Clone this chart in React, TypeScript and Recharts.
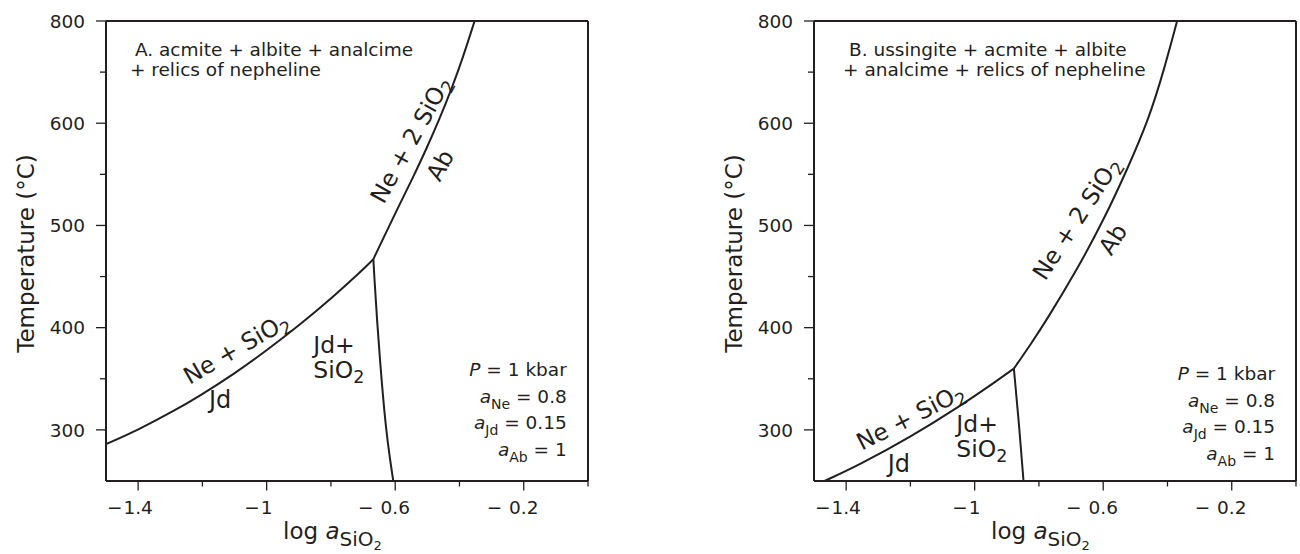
import React from 'react';
import { LineChart, Line, XAxis, YAxis, ReferenceLine, ReferenceDot } from 'recharts';

const FONT = '"DejaVu Sans", "Liberation Sans", Arial, sans-serif';
const INK = '#231f20';

// the temperature axis is squeezed above 600 °C (800 sits where 700 would be)
const toAxis = (t: number) => (t <= 600 ? t : 600 + (t - 600) / 2);
const fromAxis = (v: number) => (v <= 600 ? v : 600 + (v - 600) * 2);

// ticks
const xTicks = [-1.4, -1.2, -1, -0.8, -0.6, -0.4, -0.2, 0];
const xMajor = [-1.4, -1, -0.6, -0.2];
const xMajorLabels = ['−1.4', '−1', '− 0.6', '− 0.2'];
const yMajor = [300, 400, 500, 600, 800];
const yMinor = [350, 450, 550, 700];

// panel A curves: x = log aSiO2, t = temperature (°C)
const a1X = [-1.5, -1.394, -1.2915, -1.2074, -1.1047, -0.999, -0.896, -0.7935, -0.7095, -0.668];
const a1T = [286, 301, 318, 333.5, 354, 378, 403, 430, 454, 467];
const a2X = [-0.668, -0.665, -0.6575, -0.642, -0.6264, -0.606];
const a2T = [467, 450, 411, 346, 293, 250];
const a3X = [-0.668, -0.63, -0.592, -0.546, -0.502, -0.461, -0.424, -0.39, -0.353];
const a3T = [467, 492, 517, 546, 575.5, 610, 668, 727, 800];

// panel B curves
const b1X = [-1.467, -1.358, -1.2025, -1.047, -0.938, -0.878];
const b1T = [250, 266, 292.5, 323, 346.5, 360];
const b2X = [-0.878, -0.862, -0.848];
const b2T = [360, 306, 250];
const b3X = [-0.878, -0.825, -0.774, -0.681, -0.5975, -0.525, -0.458, -0.41, -0.37];
const b3T = [360, 384, 408.5, 457, 506, 555, 608, 706, 800];

// text
const titleA = ['A. acmite + albite + analcime', '+ relics of nepheline'];
const titleB = ['B. ussingite + acmite + albite', '+ analcime + relics of nepheline'];
const paramSubs = ['Ne', 'Jd', 'Ab'];
const paramVals = ['0.8', '0.15', '1'];

const rows = (xs: number[], ts: number[]) => xs.map((x, i) => ({ x, y: toAxis(ts[i]) }));

const numWidth = (s: string, fs: number) =>
  s.split('').reduce((w, c) => w + (c === '.' || c === ' ' ? 0.318 : 0.636), 0) * fs;

const XTick = (props: any) => {
  const { x, y, payload } = props;
  const v = payload.value;
  const idx = xMajor.findIndex((m) => Math.abs(m - v) < 1e-6);
  const major = idx >= 0;
  let pre = '';
  let num = '';
  if (major) {
    const lab = xMajorLabels[idx];
    const k = lab.search(/\d/);
    pre = lab.slice(0, k);
    num = lab.slice(k);
  }
  const fs = 18.5;
  return (
    <g>
      <line x1={x} x2={x} y1={y} y2={y + (major ? 9.5 : 5.5)} stroke={INK} strokeWidth={1.3} />
      {major && (
        <>
          <text x={x} y={y + 32.5} textAnchor="middle" fontFamily={FONT} fontSize={fs} fill={INK}>{num}</text>
          <text x={x - numWidth(num, fs) / 2 - 1} y={y + 32.5} textAnchor="end" fontFamily={FONT} fontSize={fs} fill={INK} style={{ whiteSpace: 'pre' }}>{pre}</text>
        </>
      )}
    </g>
  );
};

const YTick = (props: any) => {
  const { x, y, payload } = props;
  const t = fromAxis(payload.value);
  const major = yMajor.includes(t);
  return (
    <g>
      <line x1={x - (major ? 10 : 6)} x2={x} y1={y} y2={y} stroke={INK} strokeWidth={1.3} />
      {major && (
        <text x={x - 21} y={y + 6.7} textAnchor="end" fontFamily={FONT} fontSize={18.5} fill={INK}>{t}</text>
      )}
    </g>
  );
};

const XTitle = (props: any) => {
  const vb = props.viewBox;
  return (
    <text x={vb.x + 177} y={vb.y + 57.5} fontFamily={FONT} fontSize={23} fill={INK}>
      {'log '}
      <tspan fontStyle="italic">a</tspan>
      <tspan fontSize={20} dy={7.5}>SiO</tspan>
      <tspan fontSize={13} dy={4}>2</tspan>
    </text>
  );
};

const YTitle = (props: any) => {
  const vb = props.viewBox;
  const cx = vb.x + props.x0;
  const cy = vb.y + vb.height / 2 + 2.5;
  return (
    <text transform={`translate(${cx}, ${cy}) rotate(-90)`} x={0} y={0} textAnchor="middle" fontFamily={FONT} fontSize={23} fill={INK}>
      Temperature (°C)
    </text>
  );
};

// rotated label centred on (cx, cy); text with optional subscript 2
const RotLabel = ({ cx, cy, angle, text, sub }: any) => {
  const fs = 23.5;
  return (
    <g transform={`translate(${cx}, ${cy}) rotate(${angle})`}>
      <text x={0} y={fs * 0.36} textAnchor="middle" fontFamily={FONT} fontSize={fs} fill={INK}>
        {text}
        {sub && <tspan fontSize={17.5} dy={5}>{sub}</tspan>}
      </text>
    </g>
  );
};

const JdLabel = ({ cx, cy }: any) => (
  <text x={cx} y={cy + 8.7} textAnchor="middle" fontFamily={FONT} fontSize={24} fill={INK}>Jd</text>
);

const JdSiLabel = ({ cx, cy }: any) => (
  <g>
    <text x={cx} y={cy} fontFamily={FONT} fontSize={23.5} fill={INK}>Jd+</text>
    <text x={cx} y={cy + 25} fontFamily={FONT} fontSize={23.5} fill={INK}>
      SiO<tspan fontSize={17.5} dy={5}>2</tspan>
    </text>
  </g>
);

const TitleBlock = ({ cx, cy, lines, indent }: any) => (
  <g>
    <text x={cx} y={cy} fontFamily={FONT} fontSize={18.5} fill={INK}>{lines[0]}</text>
    <text x={cx - indent} y={cy + 20} fontFamily={FONT} fontSize={18.5} fill={INK}>{lines[1]}</text>
  </g>
);

const ParamBlock = ({ cx, cy }: any) => (
  <g fontFamily={FONT} fontSize={18.5} fill={INK}>
    <text x={cx} y={cy} textAnchor="end">
      <tspan fontStyle="italic">P</tspan>
      {' = 1 kbar'}
    </text>
    {paramSubs.map((s, i) => (
      <text key={s} x={cx} y={cy + 26.8 * (i + 1)} textAnchor="end">
        <tspan fontStyle="italic">a</tspan>
        <tspan fontSize={14} dy={6}>{s}</tspan>
        <tspan dy={-6}>{' = ' + paramVals[i]}</tspan>
      </text>
    ))}
  </g>
);

type Spot = { x: number; t: number; angle?: number };

type PanelProps = {
  curves: { x: number[]; t: number[] }[];
  yAxisWidth: number;
  marginRight: number;
  yTitleX: number;
  title: string[];
  titleAt: Spot;
  titleIndent: number;
  neSi: Spot;
  jd: Spot;
  jdSi: Spot;
  ne2Si: Spot;
  ab: Spot;
  params: Spot;
};

const yTicksAxis = [...yMajor, ...yMinor].map(toAxis).sort((a, b) => a - b);

function Panel(p: PanelProps) {
  const dot = (s: Spot, key: string, render: (cx: number, cy: number) => React.ReactElement) => (
    <ReferenceDot
      key={key}
      x={s.x}
      y={toAxis(s.t)}
      r={0}
      ifOverflow="visible"
      shape={(sp: any) => render(sp.cx, sp.cy)}
    />
  );
  return (
    <LineChart width={650} height={554} margin={{ top: 21, right: p.marginRight, bottom: 0, left: 0 }}>
      <XAxis
        type="number"
        dataKey="x"
        domain={[-1.5, 0]}
        ticks={xTicks}
        interval={0}
        tickSize={0}
        tickMargin={0}
        tickLine={false}
        tick={<XTick />}
        axisLine={{ stroke: INK, strokeWidth: 2 }}
        height={73}
        allowDataOverflow
        label={<XTitle />}
      />
      <YAxis
        type="number"
        domain={[250, 700]}
        ticks={yTicksAxis}
        interval={0}
        tickSize={0}
        tickMargin={0}
        tickLine={false}
        tick={<YTick />}
        axisLine={{ stroke: INK, strokeWidth: 2 }}
        width={p.yAxisWidth}
        allowDataOverflow
        label={<YTitle x0={p.yTitleX} />}
      />
      <ReferenceLine y={700} stroke={INK} strokeWidth={2} />
      <ReferenceLine x={0} stroke={INK} strokeWidth={2} />
      {p.curves.map((c, i) => (
        <Line
          key={i}
          data={rows(c.x, c.t)}
          dataKey="y"
          type="basis"
          dot={false}
          activeDot={false}
          stroke={INK}
          strokeWidth={2}
          isAnimationActive={false}
        />
      ))}
      {dot(p.titleAt, 'title', (cx, cy) => <TitleBlock cx={cx} cy={cy} lines={p.title} indent={p.titleIndent} />)}
      {dot(p.neSi, 'nesi', (cx, cy) => <RotLabel cx={cx} cy={cy} angle={p.neSi.angle} text="Ne + SiO" sub="2" />)}
      {dot(p.jd, 'jd', (cx, cy) => <JdLabel cx={cx} cy={cy} />)}
      {dot(p.jdSi, 'jdsi', (cx, cy) => <JdSiLabel cx={cx} cy={cy} />)}
      {dot(p.ne2Si, 'ne2si', (cx, cy) => <RotLabel cx={cx} cy={cy} angle={p.ne2Si.angle} text="Ne + 2 SiO" sub="2" />)}
      {dot(p.ab, 'ab', (cx, cy) => <RotLabel cx={cx} cy={cy} angle={p.ab.angle} text="Ab" />)}
      {dot(p.params, 'params', (cx, cy) => <ParamBlock cx={cx} cy={cy} />)}
    </LineChart>
  );
}

export default function App() {
  return (
    <div style={{ position: 'absolute', left: 0, top: 0, width: 1300, height: 554, background: '#fff', fontFamily: FONT }}>
      <div style={{ position: 'absolute', left: 0, top: 0 }}>
        <Panel
          curves={[{ x: a1X, t: a1T }, { x: a2X, t: a2T }, { x: a3X, t: a3T }]}
          yAxisWidth={106}
          marginRight={62}
          yTitleX={33.5}
          title={titleA}
          titleAt={{ x: -1.41, t: 732 }}
          titleIndent={5}
          neSi={{ x: -1.095, t: 380, angle: -30 }}
          jd={{ x: -1.145, t: 330 }}
          jdSi={{ x: -0.855, t: 375 }}
          ne2Si={{ x: -0.553, t: 584, angle: -61 }}
          ab={{ x: -0.461, t: 559, angle: -61 }}
          params={{ x: -0.066, t: 353 }}
        />
      </div>
      <div style={{ position: 'absolute', left: 650, top: 0 }}>
        <Panel
          curves={[{ x: b1X, t: b1T }, { x: b2X, t: b2T }, { x: b3X, t: b3T }]}
          yAxisWidth={164}
          marginRight={4}
          yTitleX={91.7}
          title={titleB}
          titleAt={{ x: -1.391, t: 732 }}
          titleIndent={6}
          neSi={{ x: -1.2, t: 313, angle: -27 }}
          jd={{ x: -1.236, t: 267 }}
          jdSi={{ x: -1.057, t: 298 }}
          ne2Si={{ x: -0.684, t: 507, angle: -57 }}
          ab={{ x: -0.571, t: 486.5, angle: -57 }}
          params={{ x: -0.065, t: 349 }}
        />
      </div>
    </div>
  );
}
